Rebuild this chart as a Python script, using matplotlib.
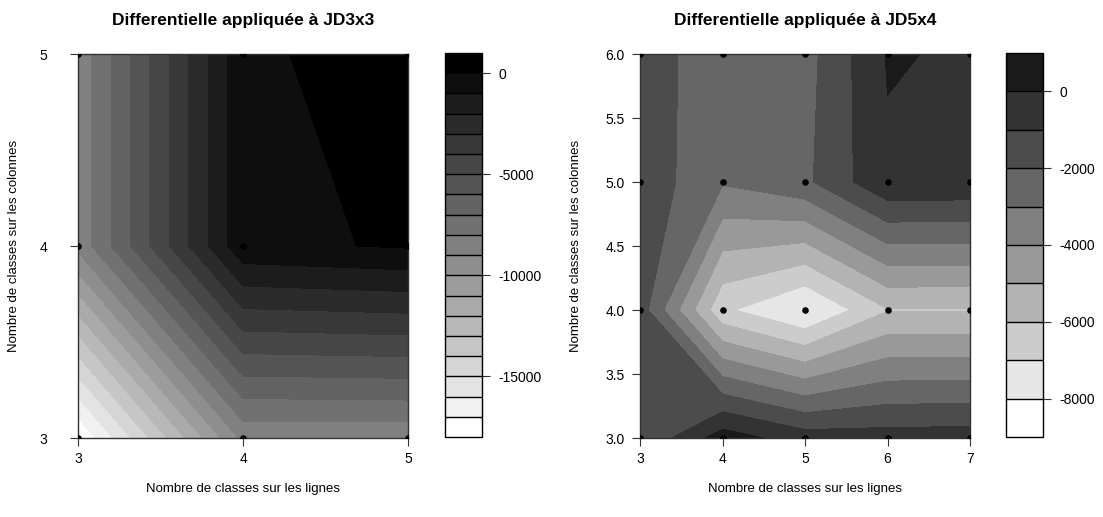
import numpy as np
import matplotlib
matplotlib.use("Agg")
import matplotlib.pyplot as plt

plt.rcParams['font.family'] = ['Liberation Sans', 'DejaVu Sans']

# JD3x3 : differentielle sur la grille 3x3
x1 = [3, 4, 5]
y1 = [3, 4, 5]
z1_y3 = [-17950, -8750, -8750]
z1_y4 = [-8700, -220, 100]
z1_y5 = [-8700, -220, 560]
lev1 = np.arange(-18000, 1001, 1000)
cb1_ticks = [0, -5000, -10000, -15000]

# JD5x4 : differentielle sur la grille 5x4
x2 = [3, 4, 5, 6, 7]
y2 = [3, 4, 5, 6]
z2_y3 = [-1950, 500, -500, -550, -500]
z2_y4 = [-1470, -6800, -8123, -6060, -6060]
z2_y5 = [-1312, -2900, -2205, -150, -177]
z2_y6 = [-1489, -2600, -2394, 71, -111]
lev2 = np.arange(-9000, 1001, 1000)
cb2_ticks = [0, -2000, -4000, -6000, -8000]
y2_ticks = [3.0, 3.5, 4.0, 4.5, 5.0, 5.5, 6.0]

W, H = 1103, 517


def box(l, t, r, b):
    # pixel box -> figure fraction
    return [l / W, 1 - b / H, (r - l) / W, (b - t) / H]


def panel(fig, ax_box, cb_box, x, y, z, levels, greys, title, yticks, cbticks, ypad):
    ax = fig.add_axes(box(*ax_box))
    cax = fig.add_axes(box(*cb_box))
    cols = [str(g) for g in greys]
    cs = ax.contourf(x, y, z, levels=levels, colors=cols)
    X, Y = np.meshgrid(x, y)
    ax.scatter(X.ravel(), Y.ravel(), s=14, color='black', zorder=3, clip_on=True)
    ax.set_xlim(min(x), max(x))
    ax.set_ylim(min(y), max(y))
    ax.set_xticks(x)
    ax.set_yticks(yticks)
    if isinstance(yticks[0], float):
        ax.set_yticklabels([f"{v:.1f}" for v in yticks])
    ax.tick_params(direction='out', length=6, labelsize=10, pad=4, color='#333333')
    ax.tick_params(axis='y', pad=ypad)
    for s in ax.spines.values():
        s.set_color('#333333')
        s.set_linewidth(1)
    ax.set_title(title, fontsize=12.5, fontweight='bold', pad=21)
    ax.set_xlabel("Nombre de classes sur les lignes", fontsize=9.5)
    ax.set_ylabel("Nombre de classes sur les colonnes", fontsize=9.5)
    ax.xaxis.set_label_coords(0.5, -0.118)
    ax.yaxis.set_label_coords(-0.175, 0.5)

    cb = fig.colorbar(cs, cax=cax, drawedges=True)
    cb.outline.set_edgecolor('black')
    cb.outline.set_linewidth(1)
    cb.dividers.set_color('black')
    cb.dividers.set_linewidth(1)
    cb.set_ticks(cbticks)
    cb.set_ticklabels([str(t) for t in cbticks])
    cax.tick_params(direction='out', length=6, labelsize=10, pad=6, color='#333333')
    return ax


fig = plt.figure(figsize=(W / 100, H / 100), dpi=100)

z1 = np.array([z1_y3, z1_y4, z1_y5])
panel(fig, (78, 54, 408, 438), (445, 53, 482, 437), x1, y1, z1, lev1,
      np.linspace(1, 0, len(lev1) - 1), "Differentielle appliquée à JD3x3",
      y1, cb1_ticks, 16)

z2 = np.array([z2_y3, z2_y4, z2_y5, z2_y6])
panel(fig, (640, 54, 970, 438), (1006, 53, 1043, 437), x2, y2, z2, lev2,
      np.linspace(1, 0.1, len(lev2) - 1), "Differentielle appliquée à JD5x4",
      y2_ticks, cb2_ticks, 5)

fig.savefig("out.png", dpi=100)
